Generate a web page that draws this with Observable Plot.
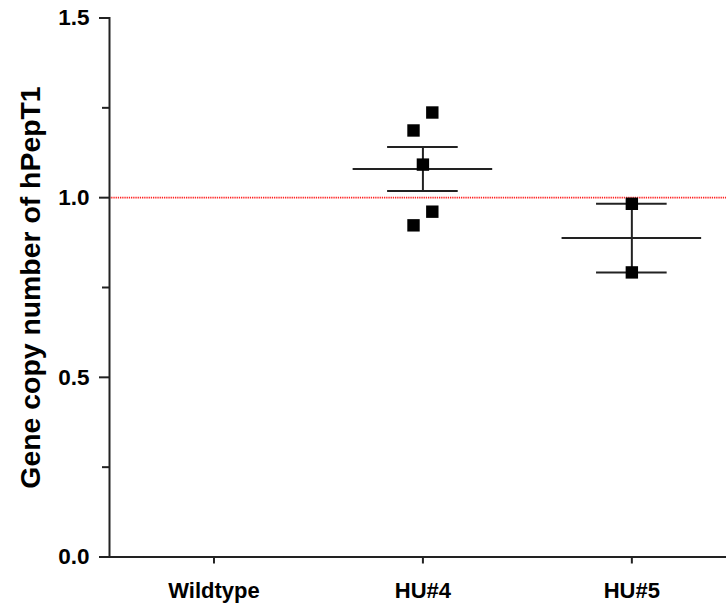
<!DOCTYPE html>
<html>
<head>
<meta charset="utf-8">
<script src="https://cdn.jsdelivr.net/npm/d3@7"></script>
<script src="https://cdn.jsdelivr.net/npm/@observablehq/plot@0.6"></script>
<style>
  html, body { margin: 0; padding: 0; background: #fff; }
</style>
</head>
<body>
<div id="chart"></div>
<script>
// ---- data ----
const categories = ["Wildtype", "HU#4", "HU#5"];
const wildtypeValues = [];            // no visible points; reported mean 0
const wildtypeMean = 0;
const hu4Values = [1.237, 1.187, 1.092, 0.961, 0.923];
const hu4Jitter = [1, -1, 0, 1, -1];  // horizontal scatter direction
const hu5Values = [0.983, 0.792];
const hu5Jitter = [0, 0];
const referenceLevel = [1.0];
const yMajorTicks = [0, 0.5, 1.0, 1.5];
const yMinorTicks = [0.25, 0.75, 1.25];
const yTitle = "Gene copy number of hPepT1";

// ---- derived tables ----
const jitterStep = 0.045;
const points = [
  ...hu4Values.map((v, i) => ({x: 1 + hu4Jitter[i] * jitterStep, y: v})),
  ...hu5Values.map((v, i) => ({x: 2 + hu5Jitter[i] * jitterStep, y: v}))
];
const sem = a => a.length > 1 ? d3.deviation(a) / Math.sqrt(a.length) : 0;
const stats = [
  {i: 0, mean: wildtypeMean, sem: 0},
  {i: 1, mean: d3.mean(hu4Values), sem: sem(hu4Values)},
  {i: 2, mean: d3.mean(hu5Values), sem: sem(hu5Values)}
];
const errStats = stats.filter(d => d.sem > 0);
const meanHalf = 0.334, capHalf = 0.169;
const ink = "#222";
const font = "Liberation Sans, Arial, Helvetica, sans-serif";

const chart = Plot.plot({
  width: 726,
  height: 609,
  marginLeft: 109,
  marginRight: 0,
  marginTop: 17.5,
  marginBottom: 52.5,
  style: {fontFamily: font, background: "#fff", color: "#000"},
  x: {type: "linear", domain: [-0.5, 2.453]},
  y: {domain: [0, 1.5]},
  marks: [
    Plot.ruleY(referenceLevel, {stroke: "#f22", strokeWidth: 1.6, strokeDasharray: "1.3,0.9"}),
    Plot.axisY({ticks: yMajorTicks, tickSize: 10, tickPadding: 10, tickFormat: d3.format(".1f"),
      fontSize: 22.5, fontWeight: "bold", strokeWidth: 2, stroke: ink, label: null}),
    Plot.axisY({ticks: yMinorTicks, tickSize: 7, tickFormat: () => "", strokeWidth: 2, stroke: ink, label: null}),
    Plot.axisX({ticks: [0, 1, 2], tickSize: 7, tickPadding: 18.5, tickFormat: i => categories[i],
      fontSize: 22, fontWeight: "bold", strokeWidth: 2, stroke: ink, label: null}),
    Plot.frame({anchor: "left", stroke: ink, strokeWidth: 2}),
    Plot.frame({anchor: "bottom", stroke: ink, strokeWidth: 2}),
    // mean lines
    Plot.ruleY(stats, {y: "mean", x1: d => d.i - meanHalf, x2: d => d.i + meanHalf, stroke: ink, strokeWidth: 2}),
    // SEM whiskers
    Plot.ruleX(errStats, {x: "i", y1: d => d.mean - d.sem, y2: d => d.mean + d.sem, stroke: ink, strokeWidth: 2}),
    Plot.ruleY(errStats, {y: d => d.mean + d.sem, x1: d => d.i - capHalf, x2: d => d.i + capHalf, stroke: ink, strokeWidth: 2}),
    Plot.ruleY(errStats, {y: d => d.mean - d.sem, x1: d => d.i - capHalf, x2: d => d.i + capHalf, stroke: ink, strokeWidth: 2}),
    // individual points
    Plot.dot(points, {x: "x", y: "y", symbol: "square", r: 7, fill: "#000", stroke: "none"}),
    // y title
    Plot.text([yTitle], {frameAnchor: "left", dx: -79, rotate: -90, text: d => d,
      fontSize: 28.4, fontWeight: "bold", fill: "#000", textAnchor: "middle", lineAnchor: "middle"})
  ]
});
document.getElementById("chart").appendChild(chart);
</script>
</body>
</html>
